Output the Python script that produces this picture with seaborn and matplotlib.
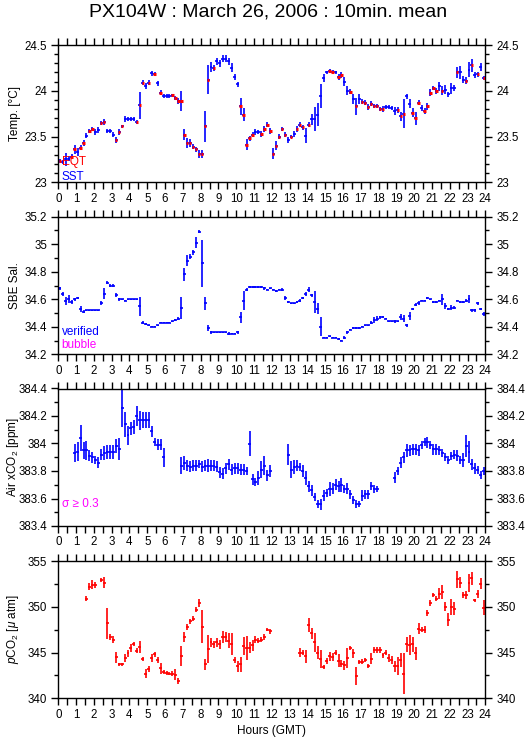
import numpy as np
import pandas as pd
import matplotlib
matplotlib.use("Agg")
import matplotlib.pyplot as plt
import seaborn as sns
from matplotlib.ticker import MultipleLocator, FuncFormatter

sns.set_theme(style="ticks")
plt.rcParams['font.family'] = ['Liberation Sans', 'DejaVu Sans']
plt.rcParams['mathtext.fontset'] = 'custom'
plt.rcParams['mathtext.rm'] = 'Liberation Sans'
plt.rcParams['mathtext.it'] = 'Liberation Sans:italic'

nan = np.nan

# 10-minute bins over the day (bin centres in hours)
hours = (np.arange(144) + 0.5) / 6.0

sst = [23.23, 23.22, 23.25, 23.26, 23.28, 23.36, 23.33, 23.38, 23.43, 23.51, 23.56, 23.58,
       23.55, 23.57, 23.65, 23.66, 23.56, 23.56, 23.52, 23.46, 23.55, 23.61, 23.69, 23.69,
       23.69, 23.69, 23.66, 23.84, 24.09, 24.05, 24.09, 24.19, 24.18, 24.08, 23.98, 23.94,
       23.94, 23.94, 23.95, 23.92, 23.89, 23.89, 23.52, 23.43, 23.43, 23.39, 23.36, 23.31,
       23.31, 23.61, 24.12, 24.26, 24.25, 24.32, 24.30, 24.35, 24.35, 24.32, 24.25, 24.15,
       24.07, 23.83, 23.74, 23.41, 23.48, 23.52, 23.55, 23.55, 23.53, 23.58, 23.63, 23.56,
       23.31, 23.40, 23.50, 23.58, 23.52, 23.46, 23.50, 23.53, 23.58, 23.63, 23.60, 23.51,
       23.63, 23.69, 23.69, 23.74, 23.94, 24.14, 24.20, 24.22, 24.21, 24.20, 24.15, 24.17,
       24.10, 24.00, 23.99, 23.91, 23.83, 23.91, 23.88, 23.87, 23.82, 23.86, 23.83, 23.83,
       23.80, 23.80, 23.82, 23.82, 23.81, 23.78, 23.79, 23.72, 23.75, 23.94, 23.86, 23.76,
       23.70, 23.87, 23.81, 23.78, 23.83, 23.98, 24.03, 24.00, 24.05, 24.00, 24.01, 23.96,
       24.03, 24.03, 24.20, 24.20, 24.12, 24.11, 24.23, 24.28, 24.17, 24.18, 24.26, 24.14]

sst_err = [.02, .02, .07, .03, .03, .05, .04, .03, .03, .03, .02, .02,
           .03, .03, .02, .03, .02, .02, .03, .03, .03, .02, .03, .02,
           .02, .02, .02, .15, .03, .03, .03, .03, .02, .03, .03, .02,
           .02, .02, .02, .02, .03, .11, .06, .05, .04, .03, .03, .04,
           .04, .17, .16, .05, .03, .04, .04, .04, .04, .04, .05, .03,
           .03, .09, .07, .06, .03, .03, .03, .02, .03, .03, .03, .03,
           .06, .05, .03, .02, .03, .03, .02, .03, .03, .03, .03, .08,
           .03, .06, .13, .13, .13, .04, .02, .02, .02, .02, .03, .03,
           .05, .05, .03, .05, .09, .05, .03, .03, .03, .03, .02, .02,
           .02, .03, .02, .02, .02, .04, .03, .05, .16, .03, .05, .05,
           .07, .03, .03, .03, .04, .04, .02, .03, .05, .05, .05, .03,
           .06, .03, .06, .07, .04, .04, .08, .07, .03, .03, .04, .02]

# bins where the equilibrator temperature mark is visible (it sits on the SST value)
eqt_bins = [0, 4, 5, 7, 8, 10, 11, 14, 15, 19, 20, 21, 26, 27, 28, 30, 32, 34, 38, 39,
            40, 41, 42, 43, 44, 45, 46, 47, 48, 49, 50, 52, 61, 62, 63, 64, 65,
            68, 69, 70, 71, 72, 73, 74, 75, 76, 78, 80, 81, 82, 84, 91, 92, 94, 95,
            98, 100, 102, 103, 104, 105, 106, 107, 108, 109, 114, 115, 116, 119, 120,
            121, 123, 124, 125, 126, 127, 129, 134, 137, 139, 141, 143]

sal = [34.68, 34.64, 34.59, 34.60, 34.58, 34.60, 34.61, 34.53, 34.51, 34.52, 34.52, 34.52,
       34.52, 34.52, 34.57, 34.64, 34.72, 34.70, 34.70, 34.63, 34.60, 34.60, 34.59, 34.60,
       34.60, 34.60, 34.60, 34.55, 34.43, 34.42, 34.41, 34.40, 34.40, 34.41, 34.43, 34.43,
       34.43, 34.43, 34.44, 34.45, 34.46, 34.54, 34.78, 34.88, 34.91, 34.94, 35.01, 35.09,
       34.86, 34.57, 34.39, 34.36, 34.36, 34.36, 34.36, 34.36, 34.36, 34.35, 34.35, 34.35,
       34.36, 34.47, 34.59, 34.67, 34.69, 34.69, 34.69, 34.69, 34.69, 34.68, 34.67, 34.68,
       34.67, 34.66, 34.67, 34.67, 34.61, 34.58, 34.57, 34.57, 34.58, 34.59, 34.61, 34.64,
       34.67, 34.63, 34.58, 34.53, 34.40, 34.32, 34.32, 34.33, 34.32, 34.32, 34.31, 34.30,
       34.32, 34.36, 34.38, 34.39, 34.39, 34.39, 34.40, 34.41, 34.41, 34.43, 34.45, 34.46,
       34.47, 34.47, 34.46, 34.44, 34.44, 34.44, 34.44, 34.47, 34.46, 34.41, 34.48, 34.53,
       34.56, 34.57, 34.59, 34.59, 34.61, 34.60, 34.58, 34.58, 34.59, 34.60, 34.55, 34.53,
       34.54, 34.54, 34.59, 34.58, 34.58, 34.59, 34.60, 34.52, 34.52, 34.57, 34.53, 34.49]

sal_err = [.01, .015, .03, .03, .015, .01, .01, .02, .01, .005, .005, .005,
           .005, .005, .015, .04, .01, .01, .01, .015, .01, .005, .005, .005,
           .005, .005, .005, .07, .01, .005, .005, .005, .005, .005, .005, .005,
           .005, .005, .005, .005, .01, .08, .05, .04, .02, .02, .04, .01,
           .17, .05, .02, .01, .005, .005, .005, .005, .005, .01, .005, .005,
           .01, .04, .07, .01, .005, .005, .005, .005, .005, .01, .005, .005,
           .005, .005, .005, .01, .015, .005, .005, .005, .005, .01, .01, .015,
           .02, .01, .08, .04, .07, .005, .005, .005, .005, .005, .005, .005,
           .01, .01, .005, .005, .005, .005, .005, .005, .005, .01, .02, .02,
           .01, .005, .005, .005, .005, .01, .005, .02, .025, .01, .03, .01,
           .01, .015, .005, .005, .005, .005, .005, .005, .005, .04, .02, .01,
           .015, .01, .005, .005, .005, .01, .03, .01, .01, .01, .005, .015]

air = [nan, nan, nan, nan, nan, 383.93, 383.94, 384.04, 383.95, 383.95, 383.91, 383.90,
       383.88, 383.86, 383.92, 383.93, 383.94, 383.94, 383.94, 383.98, 383.96, 384.26, 384.14, 384.06,
       384.11, 384.12, 384.20, 384.17, 384.17, 384.17, 384.17, 384.09, 384.01, 383.99, 383.99, 383.90,
       nan, nan, nan, nan, nan, 383.84, 383.86, 383.84, 383.83, 383.84, 383.84, 383.85,
       383.83, 383.84, 383.84, 383.84, 383.84, 383.83, 383.79, 383.78, 383.82, 383.85, 383.81, 383.82,
       383.82, 383.81, 383.81, 383.80, 384.00, 383.74, 383.72, 383.75, 383.81, 383.84, 383.77, 383.80,
       nan, nan, nan, nan, nan, 383.92, 383.81, 383.83, 383.84, 383.83, 383.80, 383.75,
       383.69, 383.66, 383.61, 383.56, 383.56, 383.62, 383.64, 383.67, 383.67, 383.70, 383.69, 383.70,
       383.67, 383.67, 383.63, 383.59, 383.56, 383.56, 383.62, 383.63, 383.63, 383.69, 383.67, 383.67,
       nan, nan, nan, nan, nan, 383.75, 383.80, 383.86, 383.90, 383.95, 383.95, 383.96,
       383.96, 383.95, 383.99, 384.01, 384.01, 383.99, 383.96, 383.96, 383.95, 383.93, 383.90, 383.88,
       383.91, 383.92, 383.91, 383.88, 383.88, 383.98, 383.94, 383.85, 383.82, 383.81, 383.77, 383.80]

air_err = [nan, nan, nan, nan, nan, .065, .07, .095, .06, .07, .04, .04,
           .03, .04, .04, .05, .05, .05, .05, .05, .08, .14, .09, .07,
           .05, .05, .07, .07, .06, .06, .06, .04, .03, .04, .04, .07,
           nan, nan, nan, nan, nan, .06, .05, .04, .04, .04, .04, .03,
           .04, .04, .05, .04, .04, .04, .04, .04, .04, .04, .04, .04,
           .04, .04, .04, .03, .09, .04, .03, .05, .06, .07, .04, .04,
           nan, nan, nan, nan, nan, .08, .06, .05, .04, .03, .04, .05,
           .04, .04, .03, .03, .04, .04, .03, .05, .04, .04, .04, .05,
           .03, .04, .03, .03, .03, .02, .04, .03, .03, .03, .03, .02,
           nan, nan, nan, nan, nan, .04, .03, .04, .04, .05, .04, .04,
           .04, .04, .03, .03, .04, .03, .04, .04, .03, .03, .03, .03,
           .03, .03, .04, .03, .05, .08, .08, .04, .04, .03, .03, .03]

pco2 = [nan, nan, nan, nan, nan, nan, nan, nan, nan, 350.9, 352.2, 352.4,
        352.4, nan, 352.9, 352.6, 348.2, 346.7, 346.4, 344.5, 343.7, 343.7, 344.4, 344.9,
        345.5, 345.9, 345.2, 345.6, 344.3, 342.7, 343.2, 344.4, 344.8, 344.2, 343.3, 342.9,
        342.8, 342.7, 342.7, 342.6, 341.9, 344.6, 346.7, 347.8, 348.4, 348.7, 349.7, 350.4,
        347.8, 343.7, 345.4, 346.1, 345.9, 346.1, 345.9, 346.7, 346.7, 346.3, 345.9, 344.2,
        343.5, 343.7, 345.7, 345.5, 345.5, 345.8, 346.4, 346.3, 346.4, 346.7, 347.5, 347.3,
        nan, nan, nan, nan, nan, nan, nan, nan, nan, 345.0, 345.0, 344.6,
        348.0, 347.1, 346.1, 345.0, 344.3, 343.4, 344.1, 344.6, 344.5, 345.0, 344.1, 343.8,
        343.6, 344.4, 345.5, 344.9, 342.4, 344.0, 344.0, 344.2, 343.5, 344.3, 345.3, 345.3,
        345.3, 344.7, 345.0, 344.4, 344.2, 343.5, 343.5, 344.2, 342.7, 345.9, 345.8, 345.9,
        344.9, 347.6, 347.5, 347.5, 349.3, 350.4, 351.3, 350.9, 351.4, 351.6, 350.0, 348.6,
        350.0, 349.8, 353.0, 352.6, 351.3, 351.3, 352.6, 353.1, 350.7, 351.4, 352.5, 349.9]

pco2_err = [nan, nan, nan, nan, nan, nan, nan, nan, nan, .3, .4, .5,
            .3, nan, .2, .6, 1.7, .3, .4, .6, .2, .2, .4, .4,
            .4, .2, .3, .7, .2, .5, .3, .4, .3, .3, .6, .2,
            .2, .2, .3, .6, .3, 1.1, .5, .3, .3, .3, .3, .4,
            1.8, .6, 1.5, .5, .4, .5, .5, .7, .5, .8, 1.2, .3,
            .6, .8, 1.0, 1.3, .6, .6, .4, .3, .3, .3, .2, .3,
            nan, nan, nan, nan, nan, nan, nan, nan, nan, .5, .3, .7,
            .8, .6, 1.0, .7, 1.0, .2, .3, .5, .4, .3, .7, .4,
            .5, 1.1, .2, .5, 1.0, .2, .3, .2, .2, .6, .3, .3,
            .3, .3, .3, .4, .4, .6, 1.0, .8, 2.2, .8, 1.1, .8,
            .7, .6, .3, .4, .3, .3, .2, .3, .6, .8, .5, .7,
            .9, .7, .9, .6, .3, .4, 1.0, .7, .2, .4, .6, .8]

df = pd.DataFrame({'hours': hours, 'sst': sst, 'sst_err': sst_err, 'sal': sal,
                   'sal_err': sal_err, 'air': air, 'air_err': air_err,
                   'pco2': pco2, 'pco2_err': pco2_err})
eqt = df.loc[eqt_bins]

BLUE = '#0000ff'
RED = '#ff0000'
MAGENTA = '#ff00ff'
half_bin = 1.0 / 12

W, H = 529, 739
fig = plt.figure(figsize=(W / 100, H / 100), dpi=100)

# (top, bottom) of each panel in pixels
panels = [(45, 182.3), (216.7, 354.3), (388.5, 526), (561, 698.3)]
left_px, right_px = 58.3, 485.3
axes = []
for top, bot in panels:
    ax = fig.add_axes([left_px / W, 1 - bot / H, (right_px - left_px) / W, (bot - top) / H])
    axes.append(ax)

ylims = [(23, 24.5), (34.2, 35.2), (383.4, 384.4), (340, 355)]
ymaj = [0.5, 0.2, 0.2, 5]
ymin = [0.1, 0.1, 0.1, 2.5]
ylabels = ['Temp. [°C]', 'SBE Sal.', 'Air xCO$_2$ [ppm]', '$p$CO$_2$ [$\\mu$ atm]']

fmt = FuncFormatter(lambda v, p: '%g' % round(v, 3))
for ax, yl, mj, mn, lab in zip(axes, ylims, ymaj, ymin, ylabels):
    ax.set_xlim(0, 24)
    ax.set_ylim(*yl)
    ax.xaxis.set_major_locator(MultipleLocator(1))
    ax.xaxis.set_minor_locator(MultipleLocator(0.5))
    ax.xaxis.set_major_formatter(FuncFormatter(lambda v, p: '%d' % round(v)))
    ax.yaxis.set_major_locator(MultipleLocator(mj))
    ax.yaxis.set_minor_locator(MultipleLocator(mn))
    ax.yaxis.set_major_formatter(fmt)
    ax.tick_params(axis='both', which='both', direction='out', top=True, right=True,
                   labelright=True, colors='black', labelsize=8.3, width=1.0)
    ax.tick_params(axis='x', which='both', length=5, pad=2.5)
    ax.tick_params(axis='y', which='major', length=5, pad=3)
    ax.tick_params(axis='y', which='minor', length=3)
    for s in ax.spines.values():
        s.set_linewidth(1.0)
        s.set_color('black')
    ax.set_ylabel(lab, fontsize=8.5, color='black')
    ax.yaxis.set_label_coords(-0.088, 0.5)

# Temperature
ax = axes[0]
ax.errorbar(df['hours'], df['sst'], yerr=df['sst_err'], xerr=half_bin, fmt='none',
            ecolor=BLUE, elinewidth=1.2, capsize=0)
ax.errorbar(eqt['hours'], eqt['sst'], xerr=half_bin * 0.8, fmt='none',
            ecolor=RED, elinewidth=2.2, capsize=0, zorder=3)
ax.text(0.008, 0.125, 'EQT', color=RED, fontsize=8.5, transform=ax.transAxes)
ax.text(0.008, 0.02, 'SST', color=BLUE, fontsize=8.5, transform=ax.transAxes)

# Salinity
ax = axes[1]
ax.errorbar(df['hours'], df['sal'], yerr=df['sal_err'], xerr=half_bin, fmt='none',
            ecolor=BLUE, elinewidth=1.2, capsize=0)
ax.text(0.008, 0.14, 'verified', color=BLUE, fontsize=8.5, transform=ax.transAxes)
ax.text(0.008, 0.046, 'bubble', color=MAGENTA, fontsize=8.5, transform=ax.transAxes)

# Air xCO2
ax = axes[2]
ax.errorbar(df['hours'], df['air'], yerr=df['air_err'], xerr=half_bin, fmt='none',
            ecolor=BLUE, elinewidth=1.2, capsize=0)
ax.text(0.008, 0.135, 'σ ≥ 0.3', color=MAGENTA, fontsize=8.5, transform=ax.transAxes)

# pCO2
ax = axes[3]
ax.errorbar(df['hours'], df['pco2'], yerr=df['pco2_err'], xerr=half_bin, fmt='none',
            ecolor=RED, elinewidth=1.2, capsize=0)
ax.set_xlabel('Hours (GMT)', fontsize=8.5, color='black', labelpad=3)

fig.text(0.506, 0.977, 'PX104W : March 26, 2006 : 10min. mean', ha='center',
         va='baseline', fontsize=14, color='black')

fig.savefig('out.png', dpi=100, facecolor='white')
